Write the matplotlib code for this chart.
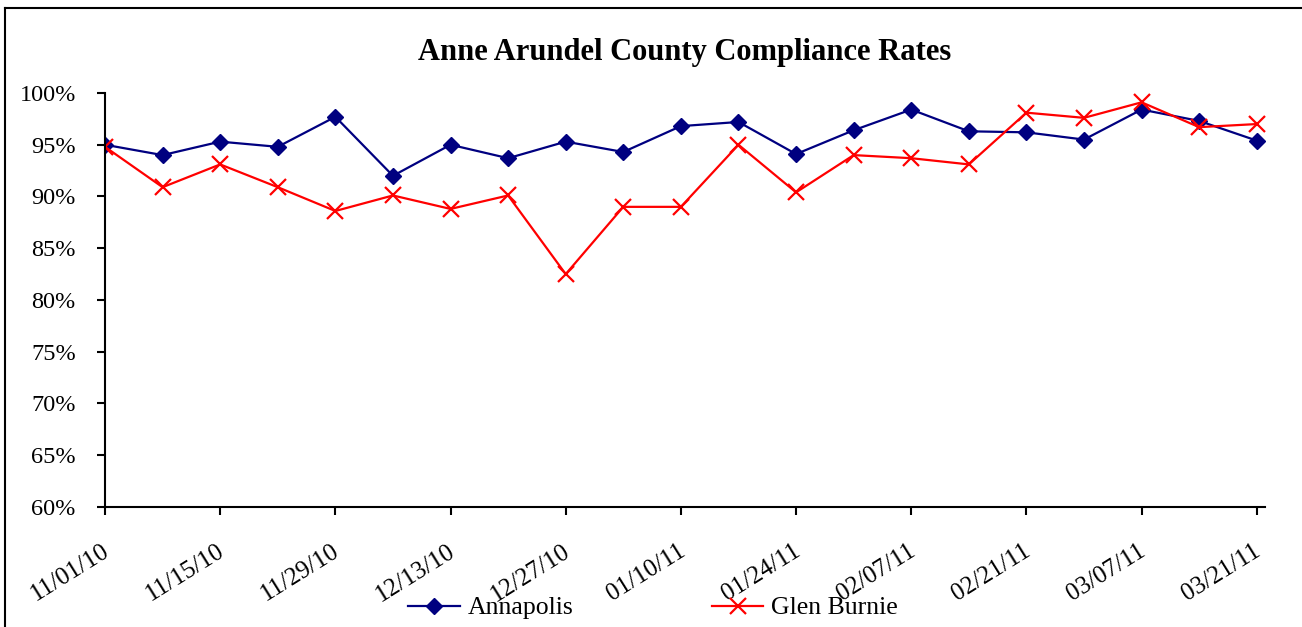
#!/usr/bin/env python3
"""Anne Arundel County compliance rates, weekly line chart."""

from datetime import datetime, timedelta

import matplotlib

matplotlib.use("Agg")
import matplotlib.dates as mdates
import matplotlib.pyplot as plt
import matplotlib.transforms as mtransforms
from matplotlib.lines import Line2D
from matplotlib.ticker import FuncFormatter, MultipleLocator

dates = [
    "11/01/10", "11/08/10", "11/15/10", "11/22/10", "11/29/10", "12/06/10",
    "12/13/10", "12/20/10", "12/27/10", "01/03/11", "01/10/11", "01/17/11",
    "01/24/11", "01/31/11", "02/07/11", "02/14/11", "02/21/11", "02/28/11",
    "03/07/11", "03/14/11", "03/21/11",
]
annapolis = [
    95.0, 94.0, 95.3, 94.8, 97.7, 92.0, 95.0, 93.7, 95.3, 94.3, 96.8,
    97.2, 94.1, 96.4, 98.4, 96.3, 96.2, 95.5, 98.4, 97.3, 95.4,
]
glen_burnie = [
    94.8, 90.9, 93.1, 90.9, 88.6, 90.1, 88.8, 90.1, 82.5, 89.0, 89.0,
    95.0, 90.4, 94.0, 93.7, 93.1, 98.1, 97.6, 99.1, 96.7, 97.0,
]

plt.rcParams["font.family"] = ["Liberation Serif", "DejaVu Serif"]

x = [datetime.strptime(d, "%m/%d/%y") for d in dates]

fig = plt.figure(figsize=(13.02, 6.27), dpi=100)
ax = fig.add_axes([105 / 1302, 1 - 507 / 627, (1265 - 105) / 1302, (507 - 93) / 627])

ax.plot(x, annapolis, color="#000080", lw=1.6, marker="D", ms=8,
        label="Annapolis")
ax.plot(x, glen_burnie, color="#ff0000", lw=1.6, marker="x", ms=11, mew=1.6,
        label="Glen Burnie")

ax.set_ylim(60, 100)
ax.set_xlim(x[0], x[-1] + timedelta(days=1))
ax.yaxis.set_major_locator(MultipleLocator(5))
ax.yaxis.set_major_formatter(FuncFormatter(lambda v, _: f"{v:.0f}%"))
ax.set_xticks(x[::2])
ax.xaxis.set_major_formatter(mdates.DateFormatter("%m/%d/%y"))

for s in ("top", "right"):
    ax.spines[s].set_visible(False)
for s in ("left", "bottom"):
    ax.spines[s].set_linewidth(1.5)
ax.tick_params(axis="y", labelsize=17.5, length=6, width=1.5, pad=15)
ax.tick_params(axis="x", labelsize=18, length=6, width=1.5, pad=18)
shift = mtransforms.ScaledTranslation(8 / 100, 0, fig.dpi_scale_trans)
for lbl in ax.get_xticklabels():
    lbl.set_rotation(32)
    lbl.set_ha("right")
    lbl.set_transform(lbl.get_transform() + shift)

ax.set_title("Anne Arundel County Compliance Rates", fontsize=22,
             fontweight="bold", pad=24)

fig.legend(loc="center", bbox_to_anchor=(653 / 1302, 19 / 627), ncol=2,
           frameon=False, fontsize=18.5, handlelength=2.0, handletextpad=0.3,
           columnspacing=5.4, borderpad=0)

# chart frame (only top and left edges fall inside the picture)
fig.add_artist(Line2D([5 / 1302, 5 / 1302], [0, 1 - 8 / 627], color="black",
                      lw=1.5, transform=fig.transFigure))
fig.add_artist(Line2D([5 / 1302, 1], [1 - 8 / 627, 1 - 8 / 627], color="black",
                      lw=1.5, transform=fig.transFigure))

fig.savefig("out.png", dpi=100)
